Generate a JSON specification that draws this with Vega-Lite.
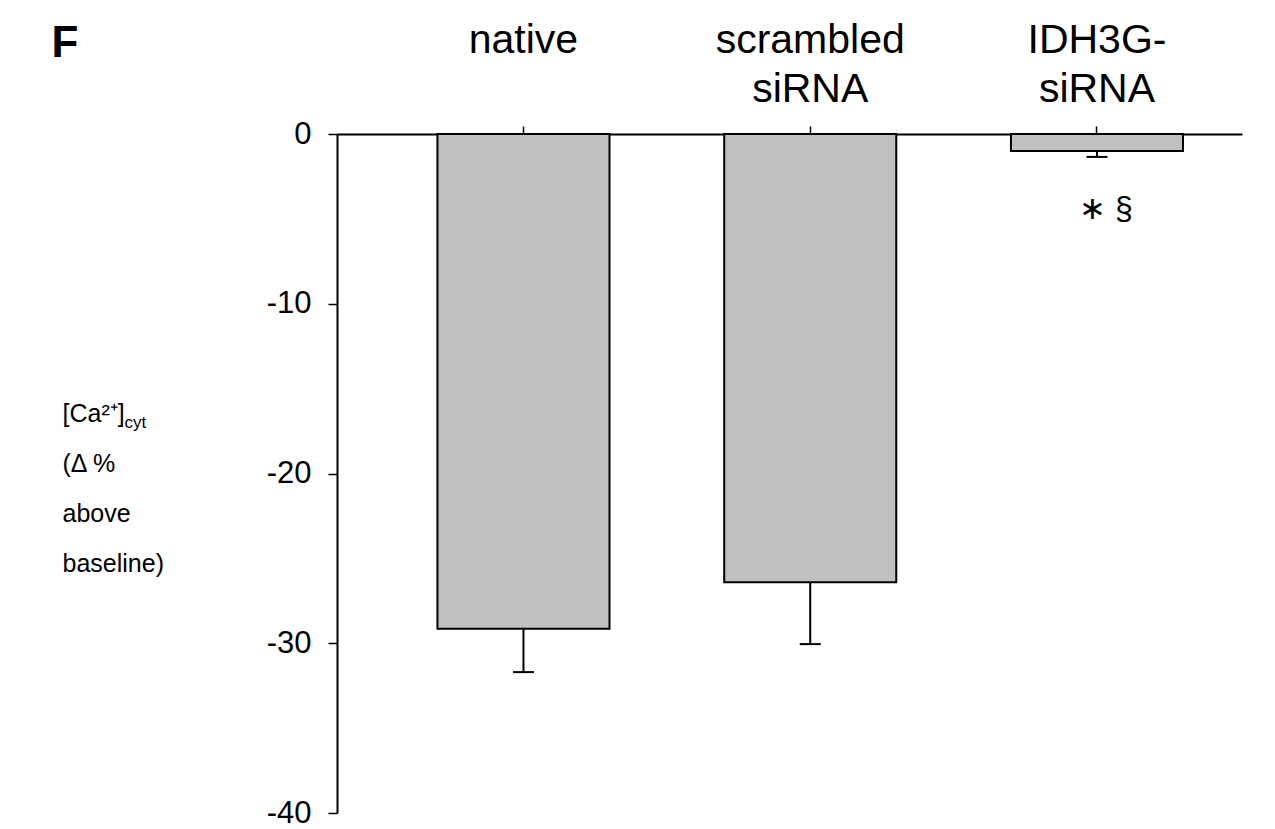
{
  "$schema": "https://vega.github.io/schema/vega-lite/v6.json",
  "autosize": {"type": "none"},
  "padding": {"left": 337, "top": 134, "right": 33, "bottom": 16},
  "width": 905,
  "height": 679,
  "background": "white",
  "config": {
    "view": {"stroke": null},
    "font": "Liberation Sans",
    "axis": {"grid": false, "domainColor": "black", "tickColor": "black", "labelColor": "black", "titleColor": "black", "labelFont": "Liberation Sans", "titleFont": "Liberation Sans"}
  },
  "data": {
    "values": [
      {"group": "native", "mean": -29.15, "lower": -31.7, "sig": ""},
      {"group": "scrambled\nsiRNA", "mean": -26.4, "lower": -30.05, "sig": ""},
      {"group": "IDH3G-\nsiRNA", "mean": -1.0, "lower": -1.35, "sig": "∗ §"}
    ]
  },
  "encoding": {
    "x": {
      "field": "group",
      "type": "nominal",
      "sort": null,
      "scale": {"paddingInner": 0.4, "paddingOuter": 0.278, "align": 0.63},
      "axis": {
        "orient": "top",
        "labelAngle": 0,
        "labelExpr": "split(datum.label, '\\n')",
        "labelFontSize": 41,
        "labelLineHeight": 49,
        "labelLimit": 0,
        "labelBaseline": "alphabetic",
        "labelPadding": 74,
        "tickSize": 8,
        "tickWidth": 1.5,
        "domainWidth": 2,
        "title": "F",
        "titleFontSize": 44,
        "titleFontWeight": "bold",
        "titleAngle": 0,
        "titleAlign": "left",
        "titleBaseline": "alphabetic",
        "titleX": -286,
        "titleY": -78
      }
    }
  },
  "layer": [
    {
      "mark": {"type": "bar", "fill": "#c0c0c0", "stroke": "black", "strokeWidth": 2},
      "encoding": {
        "y": {
          "field": "mean",
          "type": "quantitative",
          "scale": {"domain": [-40, 0], "nice": false, "zero": false},
          "axis": {
            "orient": "left",
            "values": [0, -10, -20, -30, -40],
            "labelExpr": "datum.value + ''",
            "labelFontSize": 31,
            "labelPadding": 17,
            "tickSize": 9,
            "tickWidth": 1.5,
            "domainWidth": 2,
            "title": ["[Ca²⁺]", "(Δ %", "above", "baseline)"],
            "titleFontSize": 25,
            "titleFontWeight": "normal",
            "titleLineHeight": 50,
            "titleAngle": 0,
            "titleAlign": "left",
            "titleBaseline": "alphabetic",
            "titleX": -275,
            "titleY": 287
          }
        }
      }
    },
    {
      "mark": {"type": "rule", "color": "black", "strokeWidth": 2},
      "encoding": {
        "y": {"field": "mean", "type": "quantitative", "axis": null},
        "y2": {"field": "lower"}
      }
    },
    {
      "mark": {"type": "tick", "orient": "horizontal", "color": "black", "size": 21, "thickness": 2, "opacity": 1},
      "encoding": {
        "y": {
          "field": "lower",
          "type": "quantitative",
          "axis": {
            "orient": "left",
            "domain": false,
            "ticks": false,
            "labels": false,
            "title": "cyt",
            "titleFontSize": 17,
            "titleFontWeight": "normal",
            "titleAngle": 0,
            "titleAlign": "left",
            "titleBaseline": "alphabetic",
            "titleX": -213,
            "titleY": 293
          }
        }
      }
    },
    {
      "transform": [{"filter": "datum.sig != ''"}],
      "mark": {"type": "text", "fontSize": 32, "color": "black", "dx": 9, "baseline": "middle"},
      "encoding": {
        "y": {"datum": -4.4, "type": "quantitative", "axis": null},
        "text": {"field": "sig"}
      }
    }
  ],
  "resolve": {"axis": {"y": "independent"}}
}
